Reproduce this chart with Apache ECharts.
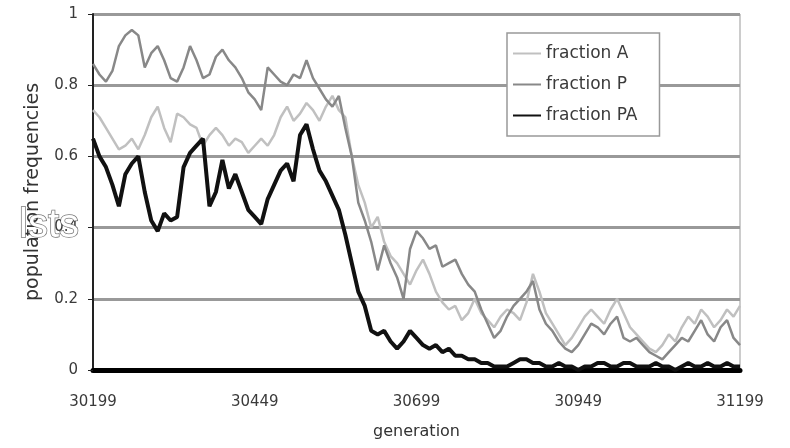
<!DOCTYPE html>
<html>
<head>
<meta charset="utf-8">
<script src="https://cdn.jsdelivr.net/npm/echarts@6/dist/echarts.min.js"></script>
<style>html,body{margin:0;padding:0;background:#fff}#c{width:790px;height:448px}</style>
</head>
<body>
<div id="c"></div>
<script>
const generations = Array.from({length: 101}, (_, i) => String(30199 + 10 * i));
const seriesNames = ['fraction A', 'fraction P', 'fraction PA'];
const fractionA = [0.73,0.71,0.68,0.65,0.62,0.63,0.65,0.62,0.66,0.71,0.74,0.68,0.64,0.72,0.71,0.69,0.68,0.63,0.66,0.68,
0.66,0.63,0.65,0.64,0.61,0.63,0.65,0.63,0.66,0.71,0.74,0.70,0.72,0.75,0.73,0.70,0.74,0.77,0.73,0.71,
0.60,0.52,0.47,0.40,0.43,0.36,0.32,0.30,0.27,0.24,0.28,0.31,0.27,0.22,0.19,0.17,0.18,0.14,0.16,0.20,
0.16,0.14,0.12,0.15,0.17,0.16,0.14,0.19,0.27,0.22,0.16,0.13,0.10,0.07,0.09,0.12,0.15,0.17,0.15,0.13,
0.17,0.20,0.16,0.12,0.10,0.08,0.06,0.05,0.07,0.10,0.08,0.12,0.15,0.13,0.17,0.15,0.12,0.14,0.17,0.15,0.18];
const fractionP = [0.86,0.83,0.81,0.84,0.91,0.94,0.955,0.94,0.85,0.89,0.91,0.87,0.82,0.81,0.85,0.91,0.87,0.82,0.83,0.88,
0.90,0.87,0.85,0.82,0.78,0.76,0.73,0.85,0.83,0.81,0.80,0.83,0.82,0.87,0.82,0.79,0.76,0.74,0.77,0.68,
0.60,0.47,0.42,0.36,0.28,0.35,0.30,0.26,0.20,0.34,0.39,0.37,0.34,0.35,0.29,0.30,0.31,0.27,0.24,0.22,
0.17,0.13,0.09,0.11,0.15,0.18,0.20,0.22,0.25,0.17,0.13,0.11,0.08,0.06,0.05,0.07,0.10,0.13,0.12,0.10,
0.13,0.15,0.09,0.08,0.09,0.07,0.05,0.04,0.03,0.05,0.07,0.09,0.08,0.11,0.14,0.10,0.08,0.12,0.14,0.09,0.07];
const fractionPA = [0.65,0.60,0.57,0.52,0.46,0.55,0.58,0.60,0.50,0.42,0.39,0.44,0.42,0.43,0.57,0.61,0.63,0.65,0.46,0.50,
0.59,0.51,0.55,0.50,0.45,0.43,0.41,0.48,0.52,0.56,0.58,0.53,0.66,0.69,0.62,0.56,0.53,0.49,0.45,0.38,
0.30,0.22,0.18,0.11,0.10,0.11,0.08,0.06,0.08,0.11,0.09,0.07,0.06,0.07,0.05,0.06,0.04,0.04,0.03,0.03,
0.02,0.02,0.01,0.01,0.01,0.02,0.03,0.03,0.02,0.02,0.01,0.01,0.02,0.01,0.01,0.00,0.01,0.01,0.02,0.02,
0.01,0.01,0.02,0.02,0.01,0.01,0.01,0.02,0.01,0.01,0.00,0.01,0.02,0.01,0.01,0.02,0.01,0.01,0.02,0.01,0.01];
const yTicks = [0, 0.2, 0.4, 0.6, 0.8, 1];

const chart = echarts.init(document.getElementById('c'), null, {renderer: 'canvas'});
const font = 'DejaVu Sans, sans-serif';
chart.setOption({
  animation: false,
  backgroundColor: '#fff',
  grid: {left: 93, right: 50, top: 14, bottom: 78, show: true, borderColor: '#999', borderWidth: 1},
  legend: {
    orient: 'vertical', left: 507, top: 33,
    padding: [12, 22, 12, 5], itemGap: 14, itemWidth: 28, itemHeight: 14,
    backgroundColor: '#fff', borderColor: '#999', borderWidth: 1.5,
    itemStyle: {opacity: 0},
    textStyle: {fontFamily: font, fontSize: 17, color: '#3a3a3a'},
    data: seriesNames
  },
  xAxis: {
    type: 'category', data: generations, boundaryGap: false,
    name: 'generation', nameLocation: 'middle', nameGap: 54,
    nameTextStyle: {fontFamily: font, fontSize: 16, color: '#333'},
    axisLine: {lineStyle: {color: '#000', width: 5}},
    axisTick: {show: false},
    axisLabel: {interval: 24, margin: 25, fontFamily: font, fontSize: 15, color: '#3a3a3a'},
    splitLine: {show: false}
  },
  yAxis: {
    type: 'value', min: 0, max: 1, interval: 0.2,
    name: 'population frequencies', nameLocation: 'middle', nameGap: 50,
    nameTextStyle: {fontFamily: font, fontSize: 19, color: '#333'},
    axisLine: {show: true, lineStyle: {color: '#222', width: 2}},
    axisTick: {show: true, length: 5, lineStyle: {color: '#222'}},
    axisLabel: {margin: 15, fontFamily: font, fontSize: 15, color: '#3a3a3a',
      customValues: yTicks},
    splitLine: {lineStyle: {color: '#999', width: 3}}
  },
  series: [
    {name: seriesNames[0], type: 'line', data: fractionA, symbol: 'none', lineStyle: {color: '#c0c0c0', width: 2.5}, itemStyle: {color: '#c0c0c0'}},
    {name: seriesNames[1], type: 'line', data: fractionP, symbol: 'none', lineStyle: {color: '#888', width: 2.5}, itemStyle: {color: '#888'}},
    {name: seriesNames[2], type: 'line', data: fractionPA, symbol: 'none', lineStyle: {color: '#111', width: 4}, itemStyle: {color: '#111'}}
  ],
  graphic: [{
    type: 'text', x: 19, y: 226, z: 100,
    style: {text: 'lsts', fontFamily: 'Liberation Sans, Arial, sans-serif', fontSize: 40,
      fill: '#fff', verticalAlign: 'middle', align: 'left',
      stroke: 'rgba(60,60,60,0.7)', lineWidth: 1.5,
      shadowColor: 'rgba(0,0,0,0.6)', shadowBlur: 4}
  }]
});
</script>
</body>
</html>
